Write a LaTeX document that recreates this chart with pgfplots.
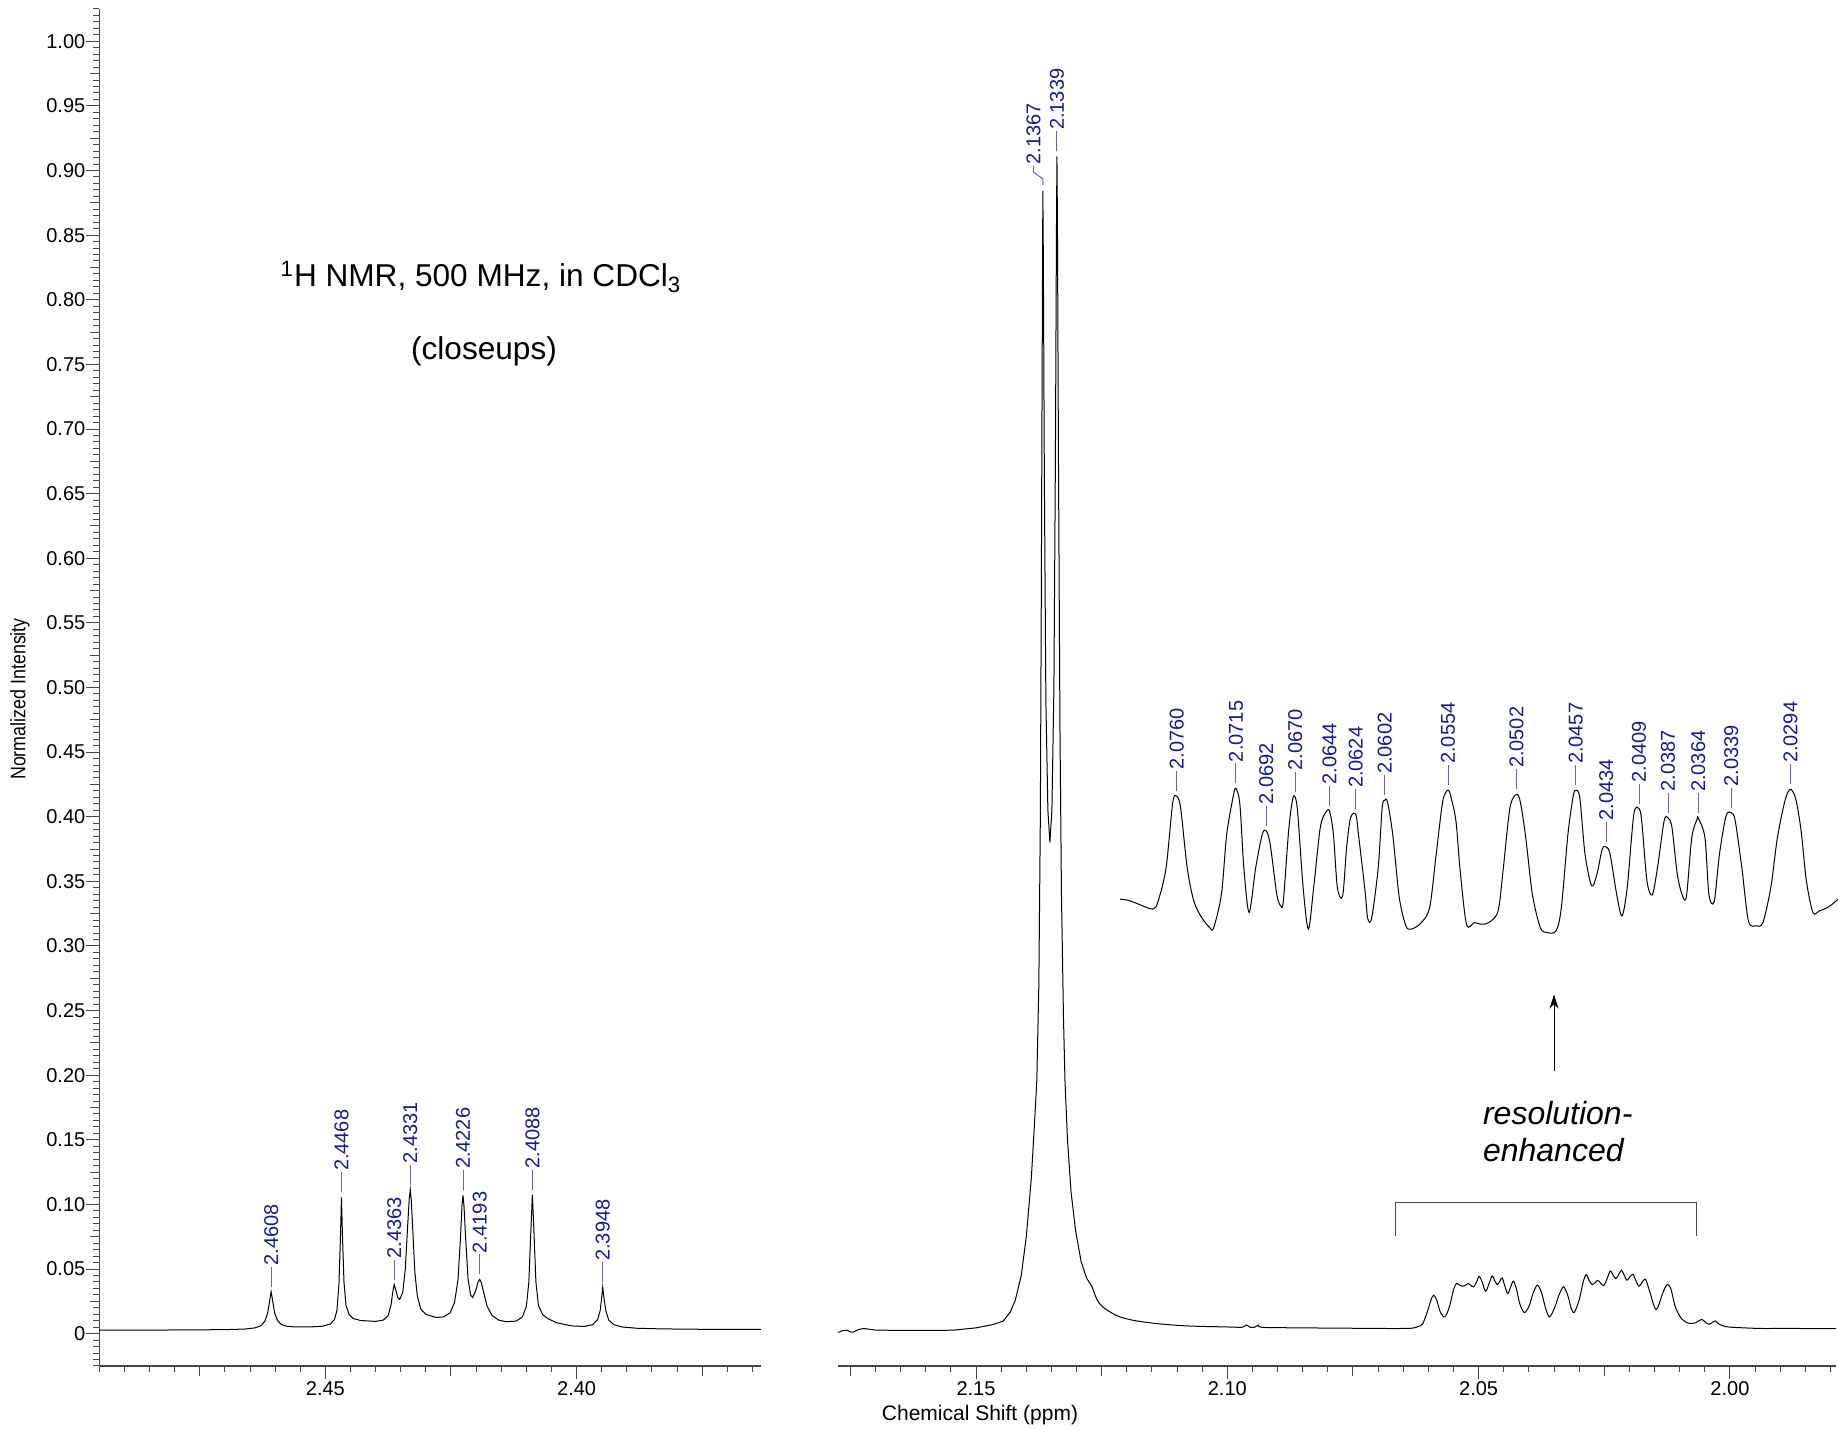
\documentclass[border=0pt]{standalone}
\usepackage{fontspec}
\setmainfont{Liberation Sans}
\usepackage{pgfplots}
\pgfplotsset{compat=1.18}
\usetikzlibrary{arrows.meta}
\definecolor{pklabel}{RGB}{25,25,140}
\definecolor{pkline}{RGB}{100,100,175}
\definecolor{axgray}{RGB}{70,70,70}

% peak label: x, height of peak top
\newcommand{\pk}[2]{%
  \draw[pkline, line width=0.5pt] ([yshift=2.5pt]axis cs:#1,#2) -- ++(0pt,10pt);
  \node[pklabel, rotate=90, anchor=west, inner sep=0pt, font=\fontsize{10}{12}\selectfont]
    at ([yshift=13pt]axis cs:#1,#2) {#1};
}

\pgfplotsset{
  nmr/.style={
    scale only axis, anchor=south west,
    ymin=-0.025, ymax=1.025, height=678.5pt,
    x dir=reverse, clip=false,
    axis x line*=bottom,
    tick align=outside,
    axis line style={axgray, line width=0.6pt},
    every tick/.style={axgray, line width=0.5pt},
    major tick length=6.5pt, minor tick length=3pt,
    tick label style={font=\fontsize{10}{12}\selectfont},
    xticklabel style={anchor=north, inner sep=0pt, yshift=-0.85pt},
    extra x tick style={major tick length=5pt},
    extra x tick labels={},
  },
  trace/.style={black, line width=0.5pt},
}

\begin{document}
\begin{tikzpicture}
\path[use as bounding box] (0,0) rectangle (919pt,714.5pt);

%% left panel
\begin{axis}[nmr, at={(49.65pt,31.5pt)}, width=330.85pt,
  xmin=2.3633, xmax=2.495,
  axis y line*=left,
  xtick={2.40,2.45}, xticklabels={2.40,2.45},
  extra x ticks={2.375,2.425,2.475},
  minor xtick={2.365,2.370,...,2.495},
  ytick={0,0.05,0.10,0.15,0.20,0.25,0.30,0.35,0.40,0.45,0.50,0.55,0.60,0.65,0.70,0.75,0.80,0.85,0.90,0.95,1.00},
  yticklabels={0,0.05,0.10,0.15,0.20,0.25,0.30,0.35,0.40,0.45,0.50,0.55,0.60,0.65,0.70,0.75,0.80,0.85,0.90,0.95,1.00},
  yticklabel style={anchor=east, inner sep=0pt, xshift=-0.3pt},
  extra y ticks={0.025,0.075,0.125,0.175,0.225,0.275,0.325,0.375,0.425,0.475,0.525,0.575,0.625,0.675,0.725,0.775,0.825,0.875,0.925,0.975},
  extra y tick labels={},
  extra y tick style={major tick length=4.5pt},
  minor ytick={-0.025,-0.020,...,1.025},
]
\addplot[trace] coordinates {
(2.4950,0.0027)(2.4900,0.0028)(2.4850,0.0027)(2.4800,0.0029)(2.4750,0.0030)(2.4700,0.0031)
(2.4660,0.0036)(2.4640,0.0045)(2.4628,0.0062)(2.4620,0.0100)(2.4615,0.0160)(2.4611,0.0250)
(2.4608,0.0325)(2.4605,0.0255)(2.4601,0.0160)(2.4595,0.0100)(2.4588,0.0072)(2.4578,0.0058)
(2.4560,0.0052)(2.4530,0.0052)(2.4505,0.0058)(2.4490,0.0075)(2.4482,0.0110)(2.4477,0.0180)
(2.4473,0.0380)(2.4470,0.0750)(2.4468,0.1055)(2.4466,0.0760)(2.4463,0.0400)(2.4459,0.0220)
(2.4453,0.0150)(2.4445,0.0118)(2.4430,0.0102)(2.4400,0.0095)(2.4385,0.0105)(2.4375,0.0140)
(2.4369,0.0230)(2.4366,0.0320)(2.4363,0.0380)(2.4360,0.0340)(2.4356,0.0280)(2.4352,0.0266)
(2.4346,0.0320)(2.4341,0.0500)(2.4336,0.0850)(2.4333,0.1050)(2.4331,0.1115)(2.4329,0.1030)
(2.4326,0.0800)(2.4322,0.0480)(2.4317,0.0290)(2.4310,0.0190)(2.4300,0.0150)(2.4280,0.0125)
(2.4265,0.0130)(2.4252,0.0160)(2.4243,0.0240)(2.4236,0.0420)(2.4231,0.0750)(2.4228,0.1000)
(2.4226,0.1070)(2.4224,0.0980)(2.4221,0.0750)(2.4216,0.0420)(2.4211,0.0300)(2.4207,0.0280)
(2.4201,0.0330)(2.4196,0.0400)(2.4193,0.0420)(2.4190,0.0400)(2.4185,0.0320)(2.4178,0.0210)
(2.4168,0.0140)(2.4155,0.0105)(2.4140,0.0092)(2.4120,0.0098)(2.4108,0.0130)(2.4100,0.0210)
(2.4095,0.0400)(2.4091,0.0800)(2.4088,0.1075)(2.4085,0.0800)(2.4081,0.0400)(2.4076,0.0220)
(2.4068,0.0150)(2.4058,0.0118)(2.4040,0.0085)(2.4010,0.0060)(2.3985,0.0056)(2.3968,0.0070)
(2.3958,0.0110)(2.3953,0.0180)(2.3950,0.0280)(2.3948,0.0360)(2.3946,0.0290)(2.3942,0.0180)
(2.3936,0.0105)(2.3926,0.0070)(2.3910,0.0052)(2.3880,0.0042)(2.3830,0.0037)(2.3750,0.0034)
(2.3680,0.0033)(2.3633,0.0033)
};
\pk{2.4608}{0.0325}
\pk{2.4468}{0.1055}
\pk{2.4363}{0.0380}
\pk{2.4331}{0.1115}
\pk{2.4226}{0.1070}
\pk{2.4193}{0.0420}
\pk{2.4088}{0.1075}
\pk{2.3948}{0.0360}
\end{axis}

%% right panel
\begin{axis}[nmr, at={(419.15pt,31.5pt)}, width=498.85pt,
  xmin=1.9789, xmax=2.1774,
  hide y axis,
  xtick={2.00,2.05,2.10,2.15}, xticklabels={2.00,2.05,2.10,2.15},
  extra x ticks={2.025,2.075,2.125,2.175},
  minor xtick={1.980,1.985,...,2.175},
]
\addplot[trace] coordinates {
(2.1774,0.0009)(2.1767,0.0022)(2.1757,0.0027)(2.1750,0.0014)(2.1744,0.0012)(2.1735,0.0030)
(2.1724,0.0040)(2.1700,0.0028)(2.1650,0.0025)(2.1600,0.0025)(2.1545,0.0027)(2.1500,0.0045)
(2.1466,0.0071)(2.1446,0.0097)(2.1432,0.0167)(2.1422,0.0257)(2.1410,0.0450)(2.1400,0.0750)
(2.1390,0.1200)(2.1384,0.1600)(2.1379,0.1960)(2.1375,0.2700)(2.1372,0.4000)(2.1370,0.5800)
(2.1368,0.7900)(2.1367,0.8840)(2.1366,0.8300)(2.1364,0.6600)(2.1361,0.4900)(2.1357,0.4050)
(2.1353,0.3800)(2.1349,0.4050)(2.1345,0.5000)(2.1342,0.6800)(2.1340,0.8500)(2.1339,0.9110)
(2.1338,0.8600)(2.1336,0.6800)(2.1333,0.4700)(2.1330,0.3400)(2.1326,0.2450)(2.1323,0.1960)
(2.1318,0.1500)(2.1311,0.1100)(2.1302,0.0800)(2.1291,0.0560)(2.1280,0.0430)(2.1269,0.0362)
};
\addplot[trace, smooth, tension=0.5] coordinates {
(2.1269,0.0362)(2.1260,0.0270)(2.1248,0.0207)(2.1220,0.0140)(2.1188,0.0104)(2.1140,0.0078)
(2.1080,0.0060)(2.1000,0.0052)(2.0970,0.0050)(2.0962,0.0068)(2.0955,0.0050)(2.0945,0.0051)
(2.0938,0.0066)(2.0930,0.0049)(2.0850,0.0045)(2.0750,0.0042)(2.0675,0.0040)(2.0635,0.0042)
(2.0620,0.0055)(2.0611,0.0079)(2.0601,0.0182)(2.0594,0.0270)(2.0589,0.0297)(2.0583,0.0255)
(2.0576,0.0165)(2.0567,0.0130)(2.0558,0.0210)(2.0550,0.0340)(2.0544,0.0388)(2.0538,0.0375)
(2.0532,0.0367)(2.0527,0.0372)(2.0521,0.0388)(2.0516,0.0375)(2.0510,0.0362)(2.0504,0.0400)
(2.0499,0.0444)(2.0493,0.0400)(2.0486,0.0328)(2.0479,0.0390)(2.0473,0.0447)(2.0468,0.0410)
(2.0463,0.0380)(2.0458,0.0405)(2.0453,0.0431)(2.0448,0.0370)(2.0442,0.0310)(2.0436,0.0365)
(2.0431,0.0406)(2.0425,0.0350)(2.0418,0.0230)(2.0409,0.0164)(2.0400,0.0210)(2.0391,0.0320)
(2.0383,0.0375)(2.0375,0.0320)(2.0367,0.0200)(2.0359,0.0130)(2.0349,0.0200)(2.0339,0.0310)
(2.0331,0.0362)(2.0323,0.0300)(2.0316,0.0200)(2.0310,0.0164)(2.0300,0.0260)(2.0292,0.0400)
(2.0286,0.0457)(2.0280,0.0410)(2.0274,0.0380)(2.0268,0.0395)(2.0263,0.0413)(2.0257,0.0390)
(2.0251,0.0372)(2.0244,0.0430)(2.0238,0.0485)(2.0232,0.0450)(2.0227,0.0426)(2.0221,0.0460)
(2.0216,0.0491)(2.0210,0.0450)(2.0205,0.0413)(2.0199,0.0440)(2.0193,0.0460)(2.0187,0.0410)
(2.0181,0.0367)(2.0175,0.0395)(2.0168,0.0421)(2.0160,0.0330)(2.0147,0.0187)(2.0135,0.0300)
(2.0128,0.0365)(2.0123,0.0380)(2.0117,0.0340)(2.0108,0.0200)(2.0095,0.0110)(2.0080,0.0079)
(2.0068,0.0085)(2.0056,0.0110)(2.0048,0.0085)(2.0041,0.0073)(2.0034,0.0090)(2.0029,0.0099)
(2.0022,0.0075)(2.0005,0.0053)(1.9960,0.0043)(1.9932,0.0040)(1.9880,0.0041)(1.9840,0.0039)
(1.9789,0.0040)
};
\pk{2.1339}{0.9110}
\draw[pkline, line width=0.5pt] ([yshift=3.2pt]axis cs:2.1367,0.8840) -- ++(0pt,3pt)
  -- ++(-4.7pt,3.3pt) -- ++(0pt,3.2pt);
\node[pklabel, rotate=90, anchor=west, inner sep=0pt, font=\fontsize{10}{12}\selectfont]
  at ([xshift=-4.7pt,yshift=13.2pt]axis cs:2.1367,0.8840) {2.1367};
% bracket over the multiplet
\draw[axgray, line width=0.6pt] (axis cs:2.0665,0.0757) -- (axis cs:2.0665,0.1015)
  -- (axis cs:2.0066,0.1015) -- (axis cs:2.0066,0.0757);
% arrow up to the inset
\draw[black, line width=0.5pt, -{Stealth[length=7pt,width=4.5pt]}]
  (axis cs:2.0350,0.2035) -- (axis cs:2.0350,0.2624);
\node[anchor=west, align=left, inner sep=0pt, font=\fontsize{16}{18.5}\selectfont\itshape]
  at (axis cs:2.0492,0.1566) {resolution-\\enhanced};
\end{axis}

%% resolution-enhanced inset
\begin{axis}[nmr, at={(560pt,31.5pt)}, width=359pt,
  xmin=2.0258, xmax=2.0803, hide axis,
]
\addplot[trace, smooth, tension=0.5] coordinates {
(2.0803,0.3362)(2.0797,0.3354)(2.0790,0.3328)(2.0778,0.3285)(2.0774,0.3349)(2.0768,0.3606)
(2.0763,0.4108)(2.0760,0.4160)(2.0757,0.4070)(2.0752,0.3606)(2.0747,0.3349)(2.0741,0.3220)
(2.0735,0.3143)(2.0732,0.3138)(2.0726,0.3400)(2.0722,0.3864)(2.0717,0.4160)(2.0715,0.4219)
(2.0712,0.4096)(2.0709,0.3606)(2.0705,0.3259)(2.0700,0.3606)(2.0695,0.3864)(2.0692,0.3890)
(2.0689,0.3787)(2.0684,0.3400)(2.0681,0.3310)(2.0679,0.3349)(2.0675,0.3890)(2.0672,0.4134)
(2.0670,0.4152)(2.0668,0.4018)(2.0664,0.3452)(2.0660,0.3130)(2.0656,0.3452)(2.0651,0.3915)
(2.0647,0.4031)(2.0644,0.4044)(2.0641,0.3864)(2.0638,0.3452)(2.0634,0.3387)(2.0631,0.3761)
(2.0628,0.3992)(2.0624,0.4018)(2.0622,0.3864)(2.0617,0.3426)(2.0615,0.3215)(2.0612,0.3215)
(2.0607,0.3606)(2.0604,0.4070)(2.0602,0.4127)(2.0600,0.4116)(2.0596,0.3864)(2.0591,0.3374)
(2.0586,0.3156)(2.0582,0.3130)(2.0575,0.3173)(2.0568,0.3297)(2.0563,0.3709)(2.0558,0.4121)
(2.0554,0.4206)(2.0552,0.4160)(2.0548,0.3967)(2.0545,0.3606)(2.0540,0.3168)(2.0534,0.3181)
(2.0529,0.3168)(2.0523,0.3181)(2.0516,0.3272)(2.0512,0.3606)(2.0507,0.4070)(2.0502,0.4173)
(2.0499,0.4108)(2.0495,0.3838)(2.0490,0.3400)(2.0484,0.3143)(2.0479,0.3104)(2.0472,0.3117)
(2.0468,0.3297)(2.0463,0.3864)(2.0459,0.4160)(2.0457,0.4204)(2.0454,0.4147)(2.0450,0.3709)
(2.0445,0.3465)(2.0441,0.3555)(2.0437,0.3748)(2.0434,0.3766)(2.0431,0.3709)(2.0426,0.3400)
(2.0422,0.3233)(2.0418,0.3452)(2.0413,0.4018)(2.0409,0.4063)(2.0407,0.3967)(2.0403,0.3503)
(2.0399,0.3395)(2.0395,0.3606)(2.0390,0.3967)(2.0387,0.3992)(2.0384,0.3915)(2.0380,0.3555)
(2.0376,0.3387)(2.0373,0.3387)(2.0369,0.3838)(2.0365,0.3980)(2.0364,0.3988)(2.0359,0.3838)
(2.0356,0.3400)(2.0352,0.3343)(2.0348,0.3709)(2.0343,0.4006)(2.0339,0.4031)(2.0336,0.3967)
(2.0331,0.3606)(2.0326,0.3194)(2.0320,0.3156)(2.0315,0.3181)(2.0309,0.3452)(2.0304,0.3838)
(2.0298,0.4134)(2.0294,0.4212)(2.0290,0.4134)(2.0286,0.3890)(2.0282,0.3503)(2.0277,0.3259)
(2.0272,0.3272)(2.0266,0.3297)(2.0263,0.3318)(2.0258,0.3362)
};
\pk{2.0760}{0.4160}
\pk{2.0715}{0.4219}
\pk{2.0692}{0.3890}
\pk{2.0670}{0.4152}
\pk{2.0644}{0.4044}
\pk{2.0624}{0.4018}
\pk{2.0602}{0.4127}
\pk{2.0554}{0.4206}
\pk{2.0502}{0.4173}
\pk{2.0457}{0.4204}
\pk{2.0434}{0.3766}
\pk{2.0409}{0.4063}
\pk{2.0387}{0.3992}
\pk{2.0364}{0.3988}
\pk{2.0339}{0.4031}
\pk{2.0294}{0.4212}
\end{axis}

%% free text
\node[font=\fontsize{15.8}{19}\selectfont] at (240.5pt,576.2pt)
  {\textsuperscript{1}H NMR, 500 MHz, in CDCl\textsubscript{3}};
\node[font=\fontsize{15.8}{19}\selectfont] at (242pt,538.6pt) {(closeups)};
\node[rotate=90, font=\fontsize{10.5}{12}\selectfont] at (10pt,365pt)
  {\scalebox{0.85}[1]{Normalized Intensity}};
\node[font=\fontsize{10.5}{12}\selectfont] at (490pt,7pt) {Chemical Shift (ppm)};
\end{tikzpicture}
\end{document}
